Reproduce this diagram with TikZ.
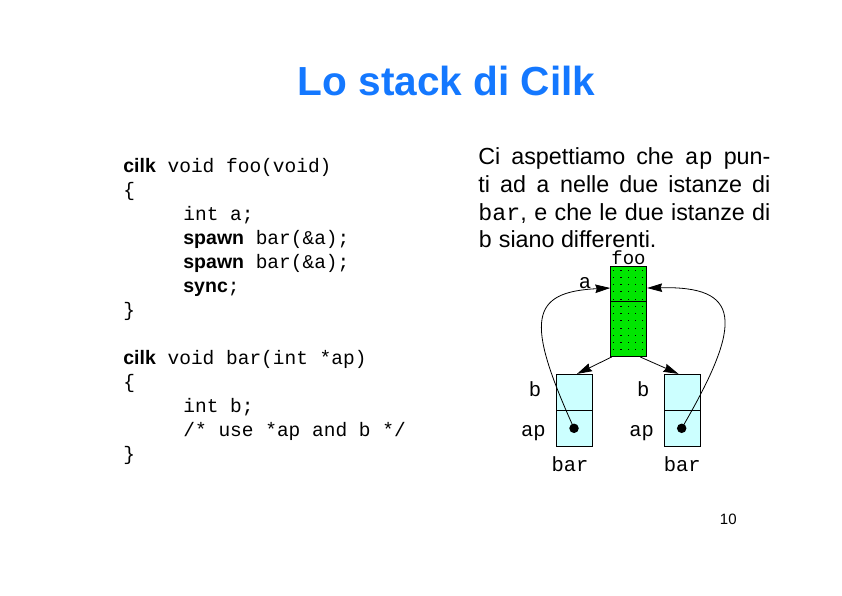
\documentclass[tikz,border=0pt]{standalone}
\usepackage{fontspec}
\setmainfont{Liberation Sans}
\setsansfont{Liberation Sans}
\setmonofont{Liberation Mono}
\usetikzlibrary{arrows.meta,calc}
\definecolor{titleblue}{RGB}{20,120,255}
\definecolor{foogreen}{RGB}{0,230,0}
\definecolor{barcyan}{RGB}{204,255,255}
% keywords of Cilk in bold sans serif
\newcommand\cilkkw[1]{{\sffamily\bfseries #1}}
\begin{document}
\begin{tikzpicture}[x=1pt,y=-1pt,
  line width=0.8pt,
  code/.style={anchor=base west,inner sep=0pt,font=\fontsize{19.5}{24}\selectfont\ttfamily},
  para/.style={anchor=base west,inner sep=0pt,font=\fontsize{23.3}{28}\selectfont},
  lbl/.style={anchor=base,inner sep=0pt,font=\fontsize{20.5}{24}\selectfont\ttfamily},
  frame/.style={draw,inner sep=0pt,minimum width=36pt},
  ptr/.style={circle,fill=black,inner sep=0pt,minimum size=9.5pt},
  arr/.style={-{Stealth[length=15pt,width=8.5pt,inset=1.5pt]}}]
\useasboundingbox (0,0) rectangle (842,595);
\fill[white] (0,0) rectangle (842,595);

% title
\node[anchor=base,inner sep=0pt,font=\fontsize{40.6}{48}\selectfont\bfseries,text=titleblue] (title) at (446.5,95.5) {Lo stack di Cilk};

% source code
\node[code] (c0)  at (123,172) {\cilkkw{cilk} void foo(void)};
\node[code] (c1)  at (123,196) {\{};
\node[code] (c2)  at (183,220) {int a;};
\node[code] (c3)  at (183,244) {\cilkkw{spawn} bar(\&a);};
\node[code] (c4)  at (183,268) {\cilkkw{spawn} bar(\&a);};
\node[code] (c5)  at (183,292) {\cilkkw{sync};};
\node[code] (c6)  at (123,316) {\}};
\node[code] (c8)  at (123,364) {\cilkkw{cilk} void bar(int *ap)};
\node[code] (c9)  at (123,388) {\{};
\node[code] (c10) at (183,412) {int b;};
\node[code] (c11) at (183,436) {/* use *ap and b */};
\node[code] (c12) at (123,460) {\}};

% explanation
\node[para] (p1) at (478,164) {\makebox[292pt][s]{Ci aspettiamo che \texttt{ap} pun-}};
\node[para] (p2) at (478,192) {\makebox[292pt][s]{ti ad \texttt{a} nelle due istanze di}};
\node[para] (p3) at (478,220) {\makebox[292pt][s]{\texttt{bar}, e che le due istanze di}};
\node[para] (p4) at (478,247.5) {\texttt{b} siano differenti.};

% frame of foo
\node[frame,fill=foogreen,minimum height=90.5pt] (foo) at (628.7,311.3) {};
\foreach \i in {0,...,4}
  \foreach \j in {0,...,11}
    \fill (613.3+7.15*\i,269.5+7.25*\j) rectangle +(1.1,1.1);
\draw ($(foo.north west)+(0,36)$) -- ($(foo.north east)+(0,36)$);
\node[frame] at (foo) [minimum height=90.5pt] {};

% frames of the two bar instances
\node[frame,fill=barcyan,minimum height=72pt] (barL) at (574.5,410.3) {};
\node[frame,fill=barcyan,minimum height=72pt] (barR) at (682.5,410.3) {};
\draw ($(barL.north west)+(0,36)$) -- ($(barL.north east)+(0,36)$);
\draw ($(barR.north west)+(0,36)$) -- ($(barR.north east)+(0,36)$);

% labels
\node[lbl,font=\fontsize{19}{22}\selectfont\ttfamily] (fooLbl) at (628.5,264.5) {foo};
\node[lbl] (aLbl) at (585,288.7) {a};
\node[lbl] (bL) at (535,396.7) {b};
\node[lbl] (apL) at (533.3,436.7) {ap};
\node[lbl] (barLblL) at (570,471.7) {bar};
\node[lbl] (bR) at (643.3,396.7) {b};
\node[lbl] (apR) at (641.7,436.7) {ap};
\node[lbl] (barLblR) at (682.3,471.7) {bar};

% spawn arrows
\draw[arr] ($(foo.south)+(-17,0)$) -- ($(barL.north)+(2.5,0)$);
\draw[arr] ($(foo.south)+(11.5,0)$) -- ($(barR.north)+(-4,0)$);

% pointers ap -> a
\coordinate (aInL) at ($(foo.west)+(0,-23.3)$);
\coordinate (aInR) at ($(foo.east)+(0,-23.3)$);
\node[ptr] (dotL) at (574,428.3) {};
\node[ptr] (dotR) at (681.7,428.3) {};
\draw[arr] (dotL.center) .. controls (525,320) and (530,292) .. (aInL);
\draw[arr] (dotR.center) .. controls (745,320) and (740,286) .. (aInR);

% page number
\node[anchor=base,inner sep=0pt,font=\fontsize{15}{18}\selectfont] (page) at (728.3,524) {10};
\end{tikzpicture}
\end{document}
